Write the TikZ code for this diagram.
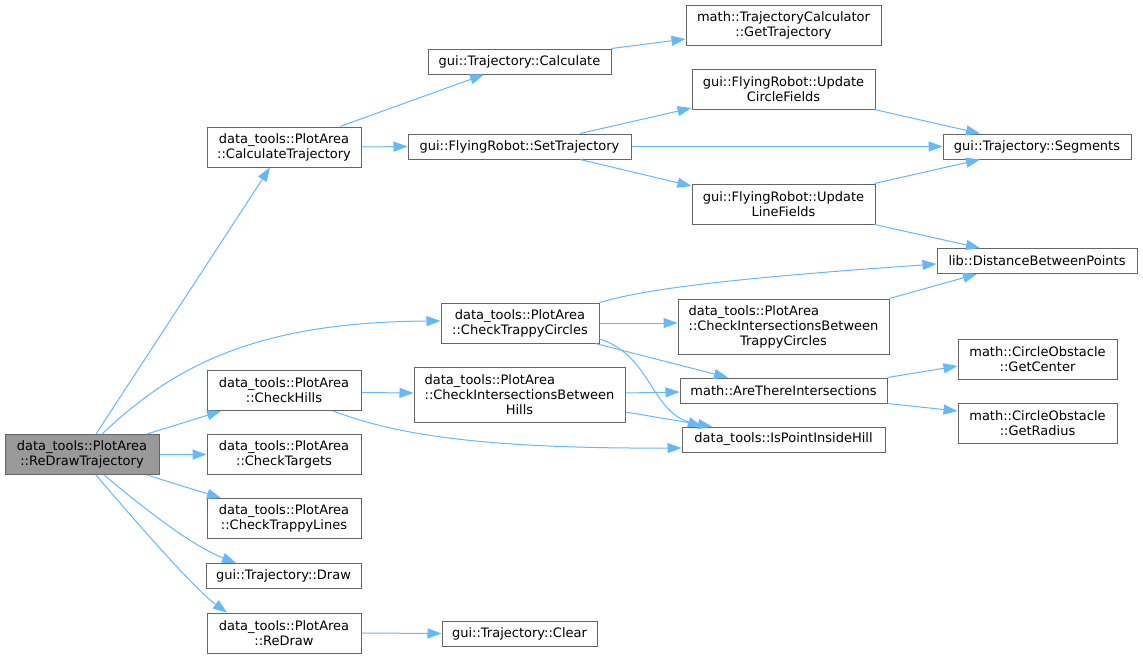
\documentclass[tikz,border=0pt]{standalone}
\usepackage{fontspec}
\setmainfont{DejaVu Sans}
\usetikzlibrary{arrows.meta}
\definecolor{edgeblue}{HTML}{63B8FF}
\definecolor{boxgray}{HTML}{666666}
\definecolor{rootgray}{HTML}{999999}
\begin{document}
\begin{tikzpicture}[x=1pt,y=-1pt,
  func/.style={draw=boxgray, line width=1pt, fill=white, inner sep=0pt, align=center,
    font=\fontsize{13}{15}\selectfont, minimum height=25pt, minimum width=#1},
  twoline/.style={minimum height=40pt},
  threeline/.style={minimum height=55pt},
  root/.style={fill=rootgray},
  call/.style={draw=edgeblue, line width=1pt, -{Triangle[length=14pt,width=10pt]}}]
\useasboundingbox (0,0) rectangle (1143,659);
\node[func=154, twoline, root] (redraw_traj) at (82,454.5) {data\_tools::PlotArea\\::ReDrawTrajectory};
\node[func=154, twoline] (calc_traj) at (284,147) {data\_tools::PlotArea\\::CalculateTrajectory};
\node[func=154, twoline] (check_hills) at (284,390.5) {data\_tools::PlotArea\\::CheckHills};
\node[func=154, twoline] (check_targets) at (284,454.5) {data\_tools::PlotArea\\::CheckTargets};
\node[func=154, twoline] (trappy_lines) at (284,518.5) {data\_tools::PlotArea\\::CheckTrappyLines};
\node[func=155] (traj_draw) at (283.5,576) {gui::Trajectory::Draw};
\node[func=154, twoline] (redraw) at (284,633) {data\_tools::PlotArea\\::ReDraw};
\node[func=183] (traj_calc) at (519.5,61.5) {gui::Trajectory::Calculate};
\node[func=223] (set_traj) at (519.5,146.5) {gui::FlyingRobot::SetTrajectory};
\node[func=158, twoline] (trappy_circ) at (520,323) {data\_tools::PlotArea\\::CheckTrappyCircles};
\node[func=211, threeline] (inter_hills) at (519.5,394.5) {\rlap{data\_tools::PlotArea}\phantom{::CheckIntersectionsBetween}\\::CheckIntersectionsBetween\\Hills};
\node[func=155] (traj_clear) at (519.5,633.5) {gui::Trajectory::Clear};
\node[func=195, twoline] (get_traj) at (783.5,25) {math::TrajectoryCalculator\\::GetTrajectory};
\node[func=183, twoline] (upd_circle) at (783.5,89) {gui::FlyingRobot::Update\\CircleFields};
\node[func=183, twoline] (upd_line) at (783.5,204) {gui::FlyingRobot::Update\\LineFields};
\node[func=211, threeline] (inter_circ) at (783.5,326.5) {\rlap{data\_tools::PlotArea}\phantom{::CheckIntersectionsBetween}\\::CheckIntersectionsBetween\\TrappyCircles};
\node[func=207] (are_inter) at (783.5,390.5) {math::AreThereIntersections};
\node[func=203] (inside_hill) at (783.5,439.5) {data\_tools::IsPointInsideHill};
\node[func=188] (segments) at (1037,146.5) {gui::Trajectory::Segments};
\node[func=200] (dist) at (1037,261) {lib::DistanceBetweenPoints};
\node[func=159, twoline] (get_center) at (1037.5,359) {math::CircleObstacle\\::GetCenter};
\node[func=159, twoline] (get_radius) at (1037.5,423) {math::CircleObstacle\\::GetRadius};
\draw[call] ([shift={(14,0)}]redraw_traj.north) -- ([shift={(-14,0)}]calc_traj.south);
\draw[call] ([shift={(20,0)}]redraw_traj.north) .. controls +(68,-64) and +(-191,1) .. ([shift={(0,-2)}]trappy_circ.west);
\draw[call] ([shift={(65,0)}]redraw_traj.north) -- ([shift={(-63,0)}]check_hills.south);
\draw[call] (redraw_traj.east) -- (check_targets.west);
\draw[call] ([shift={(65,0)}]redraw_traj.south) -- ([shift={(-63,0)}]trappy_lines.north);
\draw[call] ([shift={(22,0)}]redraw_traj.south) .. controls +(36,30) and +(-46,-18) .. ([shift={(-47.5,0)}]traj_draw.north);
\draw[call] ([shift={(14,0)}]redraw_traj.south) .. controls +(40,47) and +(-32,-23) .. ([shift={(-57,0)}]redraw.north);
\draw[call] ([shift={(56,0)}]calc_traj.north) -- ([shift={(-35.5,0)}]traj_calc.south);
\draw[call] (calc_traj.east) -- (set_traj.west);
\draw[call] (traj_calc.north east) -- ([shift={(0,14)}]get_traj.west);
\draw[call] ([shift={(60.5,0)}]set_traj.north) -- ([shift={(0,19)}]upd_circle.west);
\draw[call] (set_traj.east) -- (segments.west);
\draw[call] ([shift={(60.5,0)}]set_traj.south) -- ([shift={(0,-18)}]upd_line.west);
\draw[call] ([shift={(-1,0)}]upd_circle.south east) -- ([shift={(-57,0)}]segments.north);
\draw[call] ([shift={(-1,0)}]upd_line.north east) -- ([shift={(-57,0)}]segments.south);
\draw[call] ([shift={(-1,0)}]upd_line.south east) -- ([shift={(-57,0)}]dist.north);
\draw[call] (trappy_circ.north east) .. controls +(51,-15) and +(-187,13) .. ([shift={(0,3)}]dist.west);
\draw[call] (trappy_circ.east) -- (trappy_circ.east -| inter_circ.west);
\draw[call] ([shift={(-4,0)}]trappy_circ.south east) -- ([shift={(-55.5,0)}]are_inter.north);
\draw[call] ([shift={(0,16)}]trappy_circ.east) .. controls +(51,16) and +(-52,-17) .. ([shift={(-81.5,0)}]inside_hill.north);
\draw[call] (inter_circ.north east) -- ([shift={(-60,0)}]dist.south);
\draw[call] ([shift={(0,2)}]check_hills.east) -- ([shift={(0,-1.5)}]inter_hills.west);
\draw[call] ([shift={(49,0)}]check_hills.south) .. controls +(47,17) and +(-232,1) .. ([shift={(0,8.5)}]inside_hill.west);
\draw[call] ([shift={(0,-1.5)}]inter_hills.east) -- ([shift={(0,1.5)}]are_inter.west);
\draw[call] ([shift={(0,17.5)}]inter_hills.east) -- ([shift={(-71.5,0)}]inside_hill.north);
\draw[call] (are_inter.north east) -- ([shift={(0,7)}]get_center.west);
\draw[call] (are_inter.south east) -- ([shift={(0,-12)}]get_radius.west);
\draw[call] (redraw.east) -- (traj_clear.west);
\end{tikzpicture}
\end{document}
